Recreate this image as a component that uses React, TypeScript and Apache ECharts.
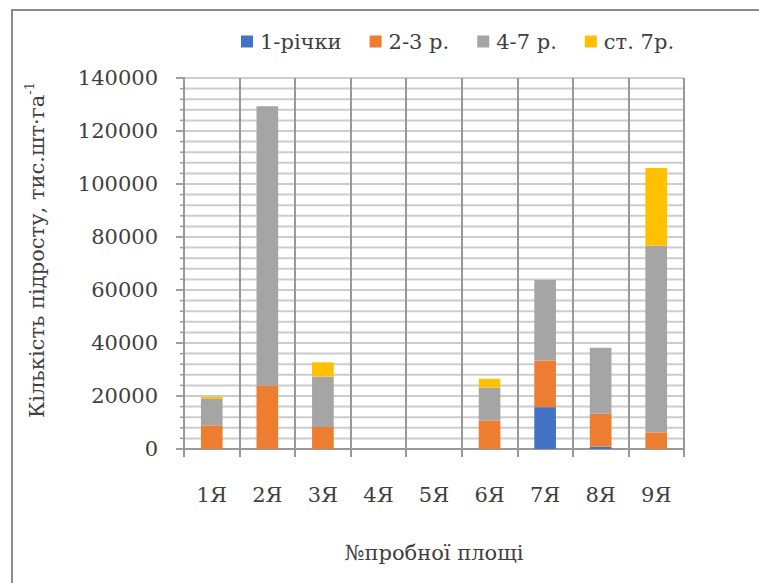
import React, { useEffect, useRef } from "react";
import * as echarts from "echarts";

const categories = ["1Я", "2Я", "3Я", "4Я", "5Я", "6Я", "7Я", "8Я", "9Я"];
const seriesNames = ["1-річки", "2-3 р.", "4-7 р.", "ст. 7р."];
const age1 = [0, 0, 0, 0, 0, 0, 15800, 900, 0];
const age2to3 = [8900, 24000, 8300, 0, 0, 10800, 17600, 12400, 6300];
const age4to7 = [10000, 105300, 19000, 0, 0, 12400, 30400, 24900, 70400];
const ageOver7 = [800, 0, 5400, 0, 0, 3300, 0, 0, 29300];
const colors = ["#4472C4", "#ED7D31", "#A5A5A5", "#FFC000"];
const yMax = 140000;
const majorStep = 20000;
const minorStep = 4000;

const FONT = "DejaVu Serif";
const TXT = "#404040";

export default function App() {
  const ref = useRef<HTMLDivElement>(null);
  useEffect(() => {
    if (!ref.current) return;
    const chart = echarts.init(ref.current, null, { renderer: "svg" });
    const values = [age1, age2to3, age4to7, ageOver7];
    const gridValues: number[][] = [];
    for (let v = 0; v <= yMax; v += minorStep) gridValues.push([0, v]);
    chart.setOption({
      animation: false,
      backgroundColor: "#ffffff",
      textStyle: { fontFamily: FONT },
      legend: {
        left: 236,
        top: 26,
        itemWidth: 12,
        itemHeight: 12,
        itemGap: 28,
        icon: "rect",
        data: seriesNames,
        textStyle: { fontFamily: FONT, fontSize: 21, color: TXT, padding: [0, 0, 0, 2] },
      },
      grid: { left: 184, right: 75, top: 78, bottom: 134, containLabel: false },
      xAxis: {
        type: "category",
        data: categories,
        axisLine: { lineStyle: { color: "#999999", width: 2 } },
        axisTick: { show: true, length: 8, lineStyle: { color: "#999999", width: 2 } },
        axisLabel: { fontFamily: FONT, fontSize: 21, color: TXT, margin: 35 },
        splitLine: { show: true, lineStyle: { color: "#999999", width: 2 } },
        name: "№пробної площі",
        nameLocation: "middle",
        nameGap: 93,
        nameTextStyle: { fontFamily: FONT, fontSize: 21, color: TXT },
        z: 3,
      },
      yAxis: {
        type: "value",
        min: 0,
        max: yMax,
        interval: majorStep,
        axisLine: { show: true, lineStyle: { color: "#999999", width: 2 } },
        axisTick: { show: true, length: 8, lineStyle: { color: "#999999", width: 1.5 } },
        axisLabel: {
          fontFamily: FONT,
          fontSize: 21,
          color: TXT,
          margin: 26,
          formatter: (v: number) => String(v),
        },
        splitLine: { show: false },
        z: 4,
      },
      graphic: [
        {
          type: "rect",
          silent: true,
          shape: { x: 12, y: 10, width: 900, height: 800 },
          style: { fill: "none", stroke: "#8c8c8c", lineWidth: 2 },
          z: 100,
        },
        {
          type: "text",
          x: 35,
          y: 250,
          rotation: Math.PI / 2,
          style: {
            text: "{a|Кількість підросту, тис.шт·га}{b|-1}",
            align: "center",
            verticalAlign: "middle",
            rich: {
              a: { fontFamily: FONT, fontSize: 21, fill: TXT, lineHeight: 24, verticalAlign: "bottom" },
              b: { fontFamily: FONT, fontSize: 13, fill: TXT, lineHeight: 24, verticalAlign: "top" },
            },
          },
        },
      ],
      series: [
        {
          name: "gridlines",
          type: "custom",
          silent: true,
          clip: false,
          z: 1,
          encode: { x: 0, y: 1 },
          data: gridValues,
          renderItem: (params: any, api: any) => {
            const cs = params.coordSys;
            const v = api.value(1);
            const y = api.coord([0, v])[1];
            const isMajor = v % majorStep === 0;
            const tickLen = isMajor ? 8 : 4;
            return {
              type: "group",
              children: [
                {
                  type: "rect",
                  shape: { x: cs.x, y: y - 1, width: cs.width, height: 2 },
                  style: { fill: v === 0 ? "#999999" : "#cccccc" },
                },
                {
                  type: "rect",
                  shape: { x: cs.x - tickLen, y: y - 0.75, width: tickLen, height: 1.5 },
                  style: { fill: "#999999" },
                },
              ],
            };
          },
        },
        ...values.map((v, i) => ({
          name: seriesNames[i],
          type: "bar",
          stack: "total",
          barWidth: "39%",
          data: v,
          itemStyle: { color: colors[i] },
          z: 5,
        })),
      ],
    });
    return () => chart.dispose();
  }, []);
  return (
    <div
      ref={ref}
      style={{ position: "fixed", left: 0, top: 0, width: 759, height: 583 }}
    />
  );
}
